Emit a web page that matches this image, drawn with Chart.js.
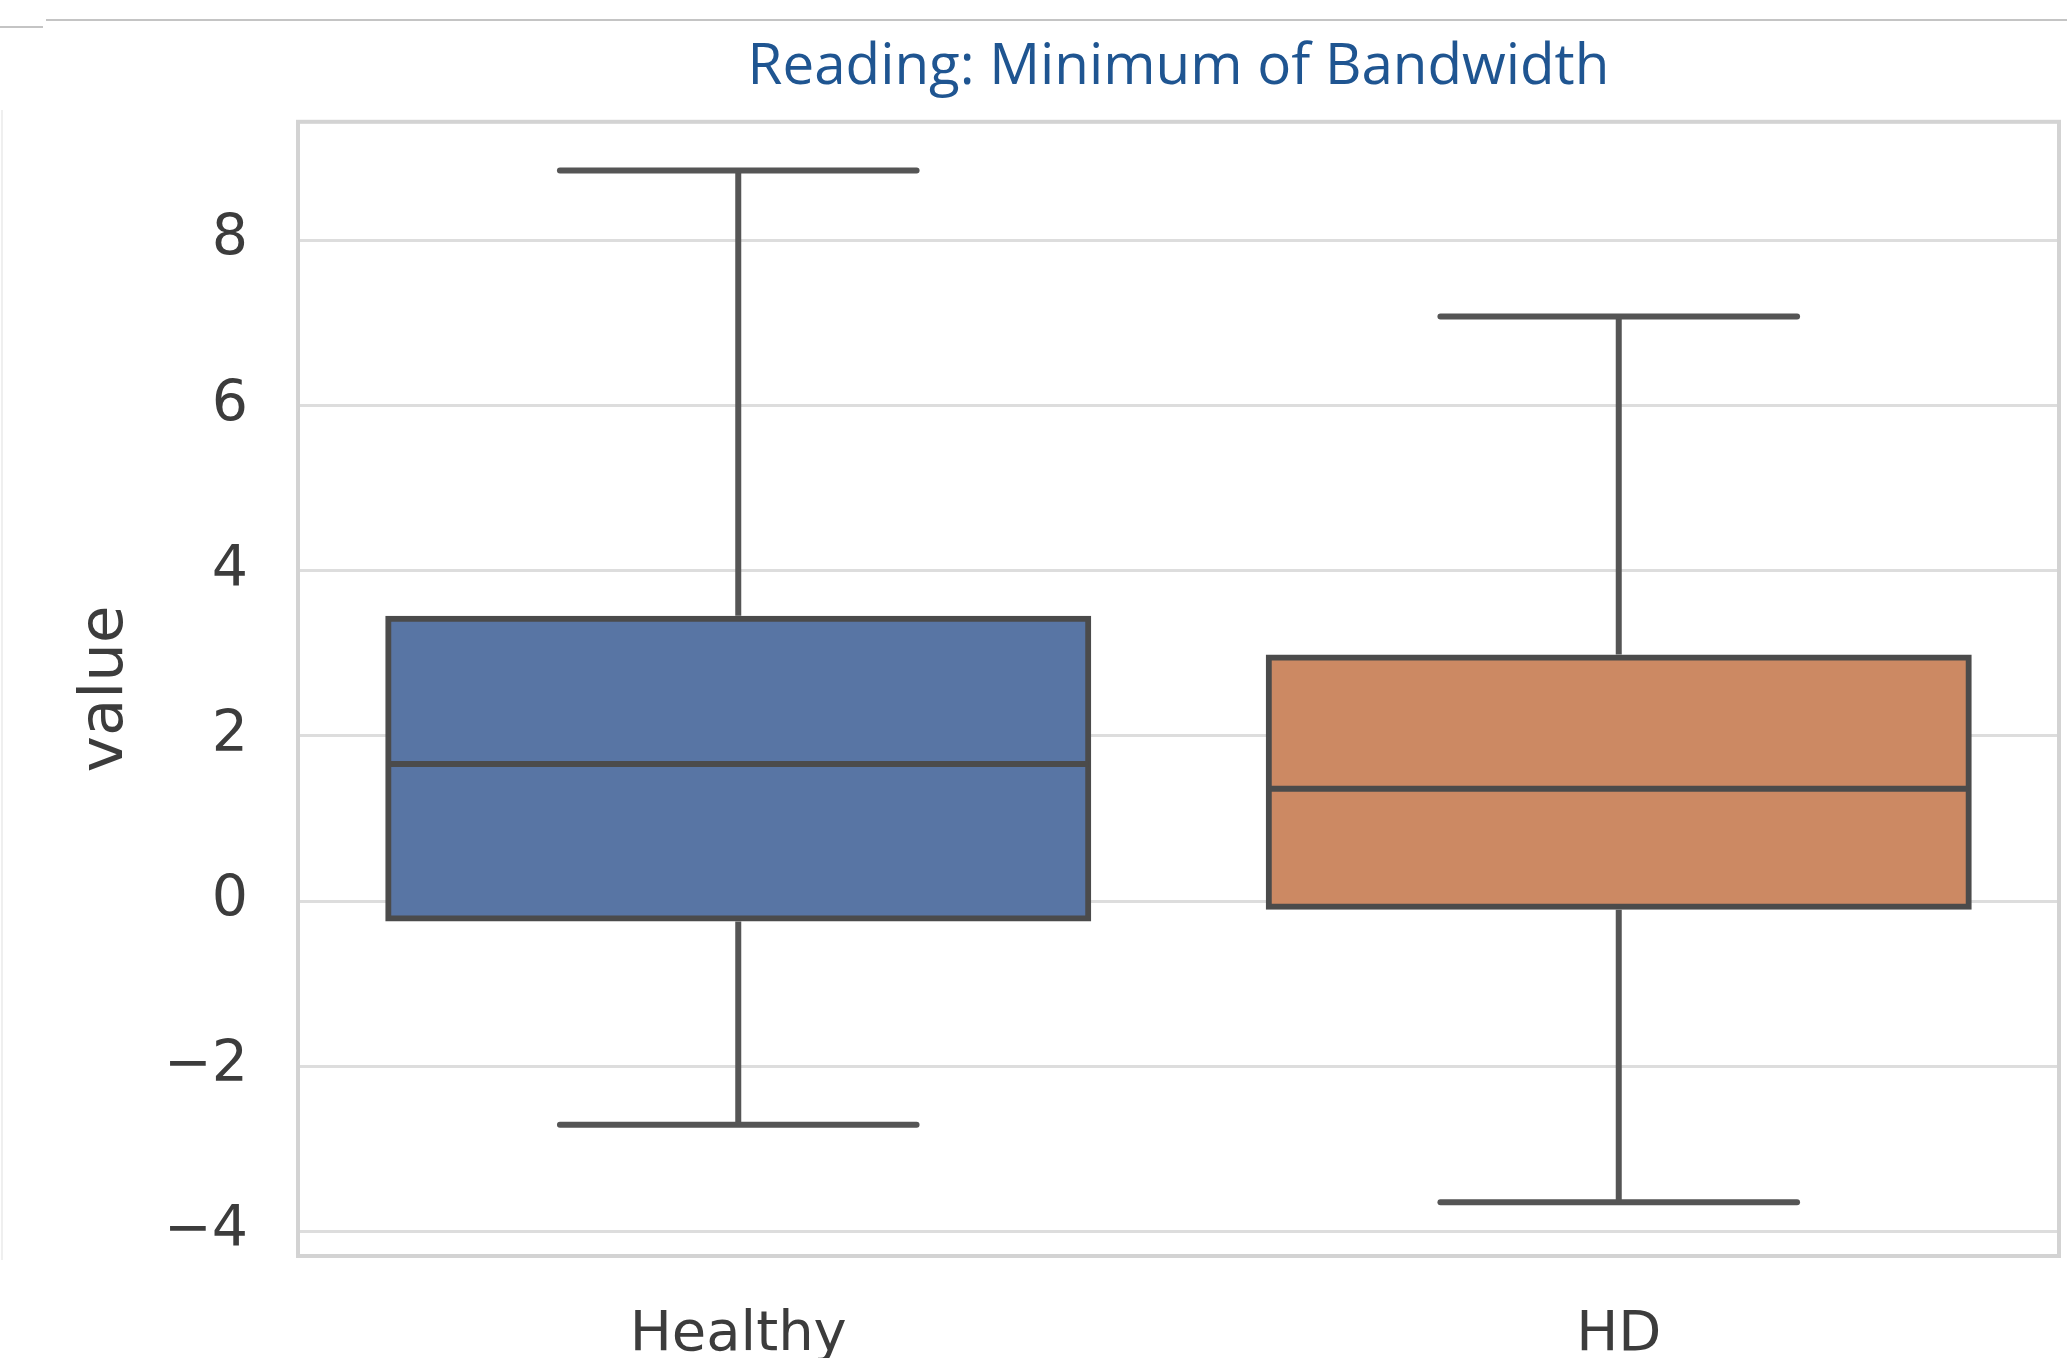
<!DOCTYPE html>
<html>
<head>
<meta charset="utf-8">
<title>Reading: Minimum of Bandwidth</title>
<script src="https://cdn.jsdelivr.net/npm/chart.js@4.4.1/dist/chart.umd.min.js"></script>
<style>
  html, body { margin: 0; padding: 0; background: #ffffff; }
  #wrap { position: relative; width: 2067px; height: 1358px; overflow: hidden; background: #ffffff; }
  #chart { position: absolute; left: 0; top: 0; }
  .rule { position: absolute; background: #c4c4c4; }
</style>
</head>
<body>
<div id="wrap">
  <div class="rule" style="left:46px; top:19px; width:2021px; height:2px;"></div>
  <div class="rule" style="left:0; top:26px; width:43px; height:2px;"></div>
  <div class="rule" style="left:1px; top:110px; width:2px; height:1150px; background:#efefef;"></div>
  <canvas id="chart" width="2067" height="1358"></canvas>
</div>
<script>
// Box-plot summary per group
const categories  = ['Healthy', 'HD'];
const whiskerLow  = [-2.71, -3.65];
const q1          = [-0.21, -0.07];
const median      = [1.66, 1.36];
const q3          = [3.42, 2.95];
const whiskerHigh = [8.85, 7.08];

// Value axis
const yTicks = [-4, -2, 0, 2, 4, 6, 8];
const yMin = -4.30;
const yMax = 9.44;

const titleText = 'Reading: Minimum of Bandwidth';
const yAxisTitle = 'value';

const boxColors = ['#5875a4', '#cc8963'];
const lineColor = '#4b4b4b';
const whiskerColor = '#555555';
const textColor = '#3c3c3c';
const lineW = 6;
const boxInflate = 3;     // centres the box outline on the quartile values
const capFraction = 0.405; // whisker cap width, as a share of the category band

// Light frame around the plotting area
const framePlugin = {
  id: 'frame',
  beforeDatasetsDraw(chart) {
    const { ctx, chartArea: a } = chart;
    ctx.save();
    ctx.strokeStyle = '#d3d3d3';
    ctx.lineWidth = 4;
    ctx.strokeRect(a.left, a.top, a.right - a.left, a.bottom - a.top);
    ctx.restore();
  }
};

// Whiskers, caps and median lines, placed through the chart's scales
const whiskerPlugin = {
  id: 'whiskers',
  afterDatasetsDraw(chart) {
    const ctx = chart.ctx;
    const xs = chart.scales.x;
    const ys = chart.scales.y;
    const meta = chart.getDatasetMeta(0);
    const band = xs.width / categories.length;
    const capHalf = band * capFraction / 2;
    const seg = (x1, y1, x2, y2) => {
      ctx.beginPath();
      ctx.moveTo(x1, y1);
      ctx.lineTo(x2, y2);
      ctx.stroke();
    };
    ctx.save();
    ctx.lineWidth = lineW;
    categories.forEach((_, i) => {
      const cx = xs.getPixelForValue(i);
      const yQ3 = ys.getPixelForValue(q3[i]);
      const yQ1 = ys.getPixelForValue(q1[i]);
      const yHi = ys.getPixelForValue(whiskerHigh[i]);
      const yLo = ys.getPixelForValue(whiskerLow[i]);
      const yMed = ys.getPixelForValue(median[i]);
      const half = meta.data[i].width / 2;
      ctx.strokeStyle = whiskerColor;
      ctx.lineCap = 'butt';
      seg(cx, yQ3 - boxInflate, cx, yHi);
      seg(cx, yQ1 + boxInflate, cx, yLo);
      ctx.lineCap = 'round';
      seg(cx - capHalf, yHi, cx + capHalf, yHi);
      seg(cx - capHalf, yLo, cx + capHalf, yLo);
      ctx.strokeStyle = lineColor;
      ctx.lineCap = 'butt';
      seg(cx - half, yMed, cx + half, yMed);
    });
    ctx.restore();
  }
};

function draw() {
  new Chart(document.getElementById('chart'), {
    type: 'bar',
    data: {
      labels: categories,
      datasets: [{
        data: categories.map((_, i) => [q1[i], q3[i]]),
        backgroundColor: boxColors,
        borderColor: lineColor,
        borderWidth: lineW,
        borderSkipped: false,
        inflateAmount: boxInflate,
        categoryPercentage: 1,
        barPercentage: 0.795
      }]
    },
    options: {
      responsive: false,
      animation: false,
      devicePixelRatio: 1,
      layout: { padding: { left: 0, right: 8, top: 0, bottom: 0 } },
      plugins: {
        legend: { display: false },
        tooltip: { enabled: false },
        title: {
          display: true,
          text: titleText,
          fullSize: false,
          color: '#1f5591',
          font: { family: 'Open Sans', size: 56.5, weight: 'normal', lineHeight: 1.2 },
          padding: { top: 34, bottom: 20 }
        }
      },
      scales: {
        x: {
          type: 'category',
          grid: { display: false, drawTicks: false },
          border: { display: false },
          ticks: {
            color: textColor,
            font: { family: 'DejaVu Sans', size: 56 },
            padding: 46,
            maxRotation: 0
          },
          afterFit(scale) { scale.height = 102; }
        },
        y: {
          min: yMin,
          max: yMax,
          afterBuildTicks(scale) { scale.ticks = yTicks.map(v => ({ value: v })); },
          grid: { color: '#dddddd', lineWidth: 3, drawTicks: false },
          border: { display: false },
          ticks: {
            color: textColor,
            font: { family: 'DejaVu Sans', size: 57 },
            padding: 50,
            callback: v => (v < 0 ? '\u2212' + Math.abs(v) : String(v))
          },
          title: {
            display: true,
            text: yAxisTitle,
            color: textColor,
            font: { family: 'DejaVu Sans', size: 61, lineHeight: 1.2 },
            padding: { top: 70, bottom: 0 }
          },
          afterFit(scale) { scale.width = 298; }
        }
      }
    },
    plugins: [framePlugin, whiskerPlugin]
  });
}

Promise.all([
  document.fonts.load('56px "Open Sans"'),
  document.fonts.load('56px "DejaVu Sans"')
]).then(draw, draw);
</script>
</body>
</html>
